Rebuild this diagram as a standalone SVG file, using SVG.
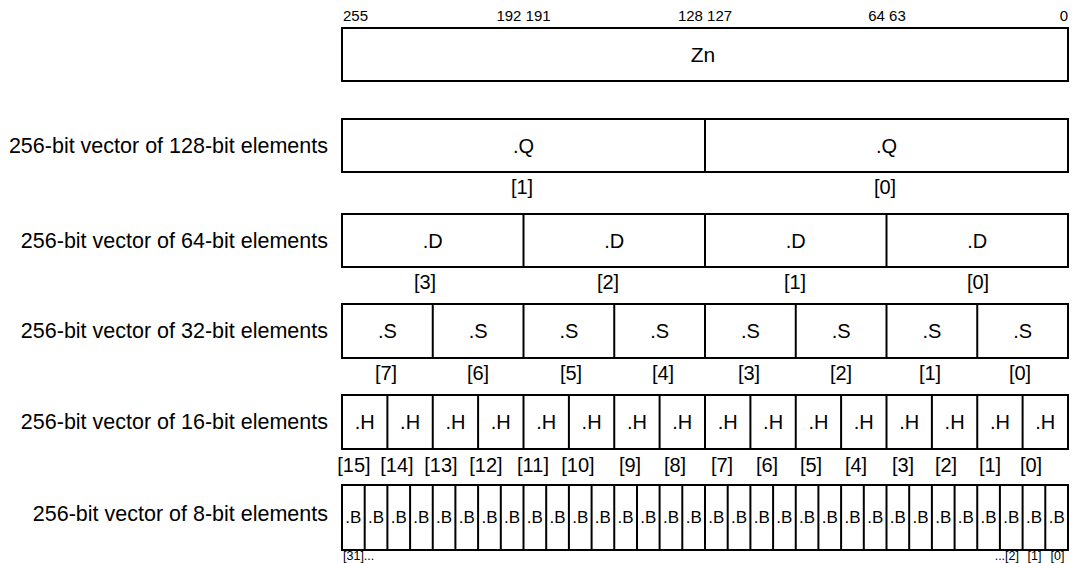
<svg xmlns="http://www.w3.org/2000/svg" width="1082" height="563" viewBox="0 0 1082 563">
<style>
text{font-family:"Liberation Sans",Arial,sans-serif;fill:#000}
.bit{font-size:15px}
.lbl{font-size:21.5px;text-anchor:end}
.zn{font-size:21px;text-anchor:middle}
.cell{font-size:20px;text-anchor:middle}
.idx{font-size:20px;text-anchor:middle}
.cb{font-size:17px;text-anchor:middle}
.sm{font-size:12.5px}
.box{fill:#fff;stroke:#000;stroke-width:2}
.div{stroke:#000;stroke-width:2}
</style>
<g id="bits">
<text class="bit" x="343" y="21">255</text>
<text class="bit" x="523.5" y="21" text-anchor="middle">192 191</text>
<text class="bit" x="705" y="21" text-anchor="middle">128 127</text>
<text class="bit" x="887" y="21" text-anchor="middle">64 63</text>
<text class="bit" x="1068" y="21" text-anchor="end">0</text>
</g>
<g id="zn">
<rect class="box" x="342" y="28" width="726" height="53"/>
<text class="zn" x="703" y="62">Zn</text>
</g>
<g id="q">
<text class="lbl" x="328" y="153">256-bit vector of 128-bit elements</text>
<rect class="box" x="342" y="119" width="726" height="53"/>
<line class="div" x1="705" y1="119" x2="705" y2="172"/>
<text class="cell" x="523.5" y="153">.Q</text>
<text class="cell" x="886.5" y="153">.Q</text>
<text class="idx" x="522" y="194">[1]</text>
<text class="idx" x="885" y="194">[0]</text>
</g>
<g id="d">
<text class="lbl" x="328" y="248">256-bit vector of 64-bit elements</text>
<rect class="box" x="342" y="214" width="726" height="53"/>
<line class="div" x1="523.5" y1="214" x2="523.5" y2="267"/>
<line class="div" x1="705" y1="214" x2="705" y2="267"/>
<line class="div" x1="886.5" y1="214" x2="886.5" y2="267"/>
<text class="cell" x="432.75" y="248">.D</text>
<text class="cell" x="614.25" y="248">.D</text>
<text class="cell" x="795.75" y="248">.D</text>
<text class="cell" x="977.25" y="248">.D</text>
<text class="idx" x="425" y="289">[3]</text>
<text class="idx" x="608" y="289">[2]</text>
<text class="idx" x="795" y="289">[1]</text>
<text class="idx" x="978" y="289">[0]</text>
</g>
<g id="s">
<text class="lbl" x="328" y="338">256-bit vector of 32-bit elements</text>
<rect class="box" x="342" y="304" width="726" height="54"/>
<path class="div" d="M432.75 304V358M523.5 304V358M614.25 304V358M705 304V358M795.75 304V358M886.5 304V358M977.25 304V358"/>
<text class="cell" x="387.4" y="338">.S</text>
<text class="cell" x="478.1" y="338">.S</text>
<text class="cell" x="568.9" y="338">.S</text>
<text class="cell" x="659.6" y="338">.S</text>
<text class="cell" x="750.4" y="338">.S</text>
<text class="cell" x="841.1" y="338">.S</text>
<text class="cell" x="931.9" y="338">.S</text>
<text class="cell" x="1022.6" y="338">.S</text>
<text class="idx" x="386" y="380">[7]</text>
<text class="idx" x="478" y="380">[6]</text>
<text class="idx" x="571" y="380">[5]</text>
<text class="idx" x="663" y="380">[4]</text>
<text class="idx" x="749" y="380">[3]</text>
<text class="idx" x="841" y="380">[2]</text>
<text class="idx" x="930" y="380">[1]</text>
<text class="idx" x="1020" y="380">[0]</text>
</g>
<g id="h">
<text class="lbl" x="328" y="429">256-bit vector of 16-bit elements</text>
<rect class="box" x="342" y="395" width="726" height="54"/>
<path class="div" d="M387.4 395V449M432.75 395V449M478.1 395V449M523.5 395V449M568.9 395V449M614.25 395V449M659.6 395V449M705 395V449M750.4 395V449M795.75 395V449M841.1 395V449M886.5 395V449M931.9 395V449M977.25 395V449M1022.6 395V449"/>
<text class="cell" x="364.7" y="429">.H</text>
<text class="cell" x="410.1" y="429">.H</text>
<text class="cell" x="455.4" y="429">.H</text>
<text class="cell" x="500.8" y="429">.H</text>
<text class="cell" x="546.2" y="429">.H</text>
<text class="cell" x="591.6" y="429">.H</text>
<text class="cell" x="637" y="429">.H</text>
<text class="cell" x="682.3" y="429">.H</text>
<text class="cell" x="727.7" y="429">.H</text>
<text class="cell" x="773.1" y="429">.H</text>
<text class="cell" x="818.4" y="429">.H</text>
<text class="cell" x="863.8" y="429">.H</text>
<text class="cell" x="909.2" y="429">.H</text>
<text class="cell" x="954.6" y="429">.H</text>
<text class="cell" x="999.9" y="429">.H</text>
<text class="cell" x="1045.3" y="429">.H</text>
<text class="idx" x="354" y="472">[15]</text>
<text class="idx" x="397" y="472">[14]</text>
<text class="idx" x="441" y="472">[13]</text>
<text class="idx" x="486" y="472">[12]</text>
<text class="idx" x="533" y="472">[11]</text>
<text class="idx" x="578" y="472">[10]</text>
<text class="idx" x="630" y="472">[9]</text>
<text class="idx" x="675" y="472">[8]</text>
<text class="idx" x="722" y="472">[7]</text>
<text class="idx" x="767" y="472">[6]</text>
<text class="idx" x="811" y="472">[5]</text>
<text class="idx" x="856" y="472">[4]</text>
<text class="idx" x="903" y="472">[3]</text>
<text class="idx" x="946" y="472">[2]</text>
<text class="idx" x="990" y="472">[1]</text>
<text class="idx" x="1031" y="472">[0]</text>
</g>
<g id="b">
<text class="lbl" x="328" y="521">256-bit vector of 8-bit elements</text>
<rect class="box" x="342" y="485" width="726" height="65"/>
<path class="div" d="M364.7 485V550M387.4 485V550M410.1 485V550M432.75 485V550M455.4 485V550M478.1 485V550M500.8 485V550M523.5 485V550M546.2 485V550M568.9 485V550M591.6 485V550M614.25 485V550M637 485V550M659.6 485V550M682.3 485V550M705 485V550M727.7 485V550M750.4 485V550M773.1 485V550M795.75 485V550M818.4 485V550M841.1 485V550M863.8 485V550M886.5 485V550M909.2 485V550M931.9 485V550M954.6 485V550M977.25 485V550M999.9 485V550M1022.6 485V550M1045.3 485V550"/>
<g class="cb">
<text x="353.3" y="523">.B</text><text x="376" y="523">.B</text><text x="398.7" y="523">.B</text><text x="421.4" y="523">.B</text>
<text x="444.1" y="523">.B</text><text x="466.8" y="523">.B</text><text x="489.5" y="523">.B</text><text x="512.1" y="523">.B</text>
<text x="534.8" y="523">.B</text><text x="557.5" y="523">.B</text><text x="580.2" y="523">.B</text><text x="602.9" y="523">.B</text>
<text x="625.6" y="523">.B</text><text x="648.3" y="523">.B</text><text x="671" y="523">.B</text><text x="693.7" y="523">.B</text>
<text x="716.3" y="523">.B</text><text x="739" y="523">.B</text><text x="761.7" y="523">.B</text><text x="784.4" y="523">.B</text>
<text x="807.1" y="523">.B</text><text x="829.8" y="523">.B</text><text x="852.5" y="523">.B</text><text x="875.2" y="523">.B</text>
<text x="897.8" y="523">.B</text><text x="920.5" y="523">.B</text><text x="943.2" y="523">.B</text><text x="965.9" y="523">.B</text>
<text x="988.6" y="523">.B</text><text x="1011.3" y="523">.B</text><text x="1034" y="523">.B</text><text x="1056.7" y="523">.B</text>
</g>
<text class="sm" x="343" y="560">[31]...</text>
<text class="sm" x="1019" y="560" text-anchor="end">...[2]</text>
<text class="sm" x="1034.5" y="560" text-anchor="middle">[1]</text>
<text class="sm" x="1057.5" y="560" text-anchor="middle">[0]</text>
</g>
</svg>
